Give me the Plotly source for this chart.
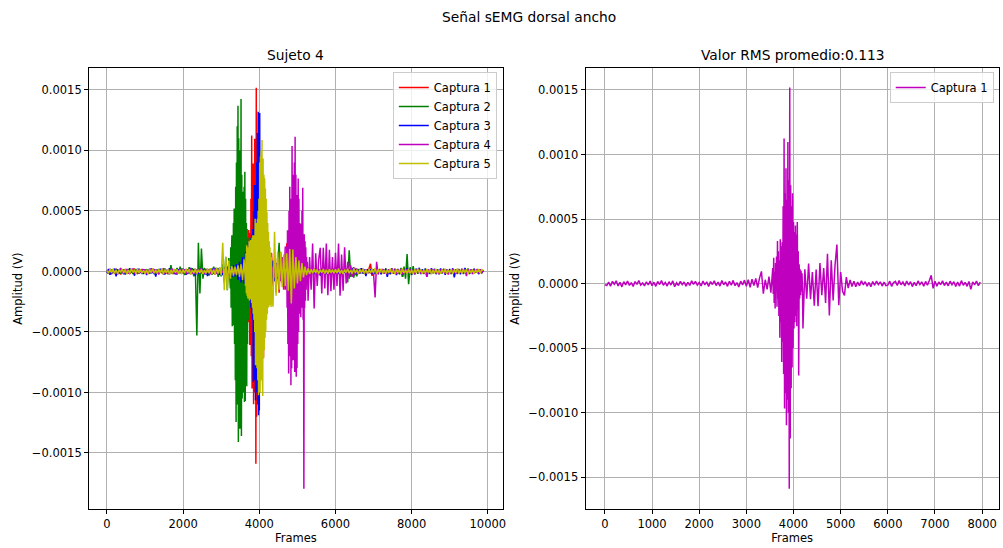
import numpy as np
import plotly.graph_objects as go

# sEMG captures of the latissimus dorsi, subject 4.
# Coarse samples every FRAME_STEP frames, amplitudes in microvolts;
# the activation bursts are stored separately at BURST_STEP resolution.
FRAME_STEP = 40
BURST_STEP = 10
UV_TO_V = 1e-6

captura_1 = [
    -8, -15, 12, -20, 18, -5, 22, -18, 10, -25, 15, -10, 20, -14, 8, -22, 16, -6, 24, -12, 5, -18, 14, -9, 19,
    -16, 11, -21, 17, -7, 23, -13, 9, -19, 15, -11, 21, -24, 6, -15, 18, -8, 13, -20, 10, -14, 22, -6, 17, -12,
    9, -18, 20, -10, 14, -23, 16, -7, 21, -15, 11, -19, 24, -9, 13, -21, 18, -12, 25, -16, 8, -26, 19, -11, 27,
    -20, 30, -28, 35, -15, 40, -30, 45, 95, -78, 30, -45, 55, -70, 120, 200, -193, 330, -608, 343, -967, 1124, -1098, 1519, -1589,
    762, -811, 477, -711, 111, -347, 111, -116, 155, -120, 90, -171, 110, -176, 160, -90, 120, -150, 232, -246, 180, -130, 140, 302, -168,
    90, -60, -91, 50, -35, 28, -22, 18, -25, 12, -17, 22, -10, 15, -20, 9, -24, 16, -13, 20, -8, 14, -19, 11, -15,
    -12, 19, -21, 8, 17, -14, 23, -9, 12, -18, 20, -11, 15, -23, 10, -16, 21, -7, 14, -20, 17, -12, 24, 64, -37,
    18, -20, 13, -9, 21, -15, 11, -17, 19, -8, 15, -22, 12, -19, 23, -13, 9, -21, 16, -45, 14, -10, 20, -16, 12,
]
burst_1_start = 3560
burst_1 = [
    120, -80, 200, -150, 90, -193, 160, -60, 210, -180,
    330, -120, 250, -250, 180, -420, 343, -300, 290, -608,
    320, -450, 600, -700, 1124, -967, 700, -850, 893, -1098,
    650, -900, 1097, -1000, 800, -1589, 1519, -1200, 762, -811,
    600, -650, 700, -500, 477, -347, 400, -300, 450, -250,
    380, -330, 477, -200, 250, -711, 150, -116, 111, -90,
    100, -60, 80, -50,
]

captura_2 = [
    12, -18, 9, -22, 16, -11, 20, -15, 7, -19, 14, -24, 18, -8, 21, -13, 10, -20, 15, -9, 23, -17, 11, -21, 13,
    -14, 19, -10, 22, -16, 8, -23, 17, -12, 20, -7, 15, -21, 24, -11, 18, -26, 52, -18, 14, -25, 30, -13, 40, -20,
    25, -30, 18, -22, 35, -15, 28, -40, 20, -529, 237, -182, 190, -60, 30, -25, 22, -35, 18, -28, 40, -20, 30, -45, 25,
    -40, 60, -90, 121, -155, 110, -140, 300, -452, 521, -1244, 1370, -1409, 1425, -1359, 658, -1070, 815, -949, 278, -300, 90, -70, 50, -45,
    30, -40, 25, -35, 45, -20, 38, -30, 20, -25, 35, -28, 50, 237, -60, 30, -22, 18, -30, 25, -18, 22, -26, 15, -20,
    18, -22, 14, -19, 23, -12, 16, -25, 11, -17, 20, -14, 9, -21, 15, -18, 24, -10, 13, -20, 17, -15, 22, -9, 19,
    -16, 21, -12, 18, -24, 14, -10, 22, -90, 176, -45, 30, -50, 25, -40, 20, -15, 24, -18, 12, -22, 17, -13, 20, -11,
    15, -19, 23, -14, 10, -21, 18, -12, 25, -17, 13, -22, 16, -9, 20, -15, 12, -24, 30, -45, 40, -60, 143, -105, 35,
    -30, 45, -25, 20, -18, 14, -21, 17, -11, 23, -15, 9, -20, 16, -13, 22, -8, 18, -24, 12, -16, 20, -10, 15, -19,
    14, -22, 19, -11, 17, -15, 21, -9, 13, -20, 16, -12, 24, -14, 10, -18, 20, -7, 15, -21, 11, -13, 8,
]
burst_2_start = 3240
burst_2 = [
    -140, 200, -300, 150, 300, -452, 250, -350, 400, -444,
    521, -600, 450, -900, 700, -1244, 900, -1100, 1200, -1000,
    1370, -1409, 1100, -1200, 900, -1300, 1000, -1100, 1425, -1359,
    800, -1050, 658, -900, 600, -1000, 700, -1078, 824, -1070,
    600, -800, 400, -949, 350, -600, 278, -400, 200, -300,
    120, -150,
]

captura_3 = [
    -12, 20, -28, 15, -9, 24, -40, 18, -14, 22, -10, 17, -25, 12, -19, 26, -8, 21, -35, 14, -16, 23, -11, 19, -22,
    16, -30, 11, -18, 25, -13, 20, -42, 14, -17, 22, -9, 18, -26, 13, -21, 27, -12, 17, -20, 10, -24, 19, -15, 23,
    -10, 18, -27, 14, -16, 28, -12, 21, -33, 15, -19, 25, -11, 20, -24, 13, -38, 17, -14, 22, -20, 30, -18, 26, -29,
    20, -30, 35, -25, 40, -35, 30, -45, 50, -40, 60, -70, 80, -90, 120, -100, 160, -130, 245, -200, 300, -913, 852, -1065, 1144,
    -1188, 1310, -700, 400, -250, 150, -140, 120, -100, 90, -80, 70, -60, 55, -75, 60, -110, 50, -40, 35, -30, 25, -35, 20, -28,
    15, -22, 18, -13, 24, -17, 11, -26, 20, -10, 16, -23, 13, -19, 22, -35, 17, -12, 25, -18, 9, -21, 14, -16, 20,
    -14, 23, -19, 12, -27, 16, -11, 21, -30, 18, -15, 24, -13, 19, -22, 10, -17, 26, -12, 15, -38, 20, -9, 17, -24,
    13, -20, 27, -16, 11, -23, 19, -14, 22, -45, 15, -18, 25, -11, 16, -29, 21, -13, 18, -24, 12, -17, 28, -10, 19,
    -25, 14, -18, 22, -12, 30, -20, 16, -15, 23, -42, 11, -19, 27, -14, 18, -22, 13, -17, 25, -11, 20, -28, 15, -16,
    21, -13, 26, -48, 17, -19, 12, -24, 20, -14, 29, -11, 16, -22, 18, -15, 23, -10, 14, -20, 17, -12, 10,
]
burst_3_start = 3760
burst_3 = [
    -200, 250, -300, 280, -350, 300, -400, 350, -913, 500,
    -676, 714, -900, 650, -1065, 714, -950, 900, -1000, 1144,
    -1100, 1320, -1188, 1000, -1150, 1310, -900, 700, -600, 500,
    -400, 300, -250, 200, -150, 120,
]

captura_4 = [
    10, -16, 22, -11, 18, -20, 13, -24, 9, 28, -15, 17, -12, 21, -19, 14, -8, 24, -17, 11, -22, 16, -13, 20, -10,
    17, -21, 12, -15, 23, -9, 19, -18, 14, -25, 10, -13, 26, -16, 11, -20, 18, -12, 22, -17, 15, -23, 13, -11, 21,
    -14, 19, -22, 16, -10, 24, -18, 12, -21, 15, -9, 27, -16, 13, -19, 20, -12, 17, -24, 11, -15, 22, -20, 14, -13,
    18, -11, 21, -17, 13, -23, 16, -10, 25, -19, 12, -15, 20, -22, 14, -12, 19, -18, 23, -9, 16, -21, 11, -14, 22,
    -16, 20, -25, 30, -20, 35, -40, 45, -30, 40, -50, 60, -45, 70, -80, 120, -150, 200, 341, -844, 700, -940, 1036, -733, 1113,
    -871, 769, -293, 395, 692, -1795, 308, -242, 120, -150, 231, -306, 150, -120, 100, 196, -182, 196, -140, 231, -196, 180, -163, 120, -150,
    155, -120, 230, -200, 140, -160, 200, -100, 80, -60, 50, -45, 35, -30, 25, -20, 18, -14, 22, -11, 16, -19, 13, -17, 21,
    -20, -215, 80, -25, 18, -12, 21, -16, 10, -22, 15, -9, 24, -18, 13, -20, 17, -11, 19, -23, 14, -15, 20, -10, 16,
    -19, 12, -24, 17, -13, 22, -16, 10, -21, 15, -45, 18, -14, 23, -11, 19, -17, 13, -22, 16, -12, 20, -18, 14, -25,
    11, -16, 21, -13, 18, -20, 15, -10, 23, -17, 12, -38, 19, -14, 16, -22, 13, -11, 20, -15, 17, -12, 9,
]
burst_4_start = 4720
burst_4 = [
    200, -300, 341, -600, 300, -844, 500, -700, 700, -600,
    600, -940, 500, -800, 1036, -700, 800, -733, 655, -600,
    900, -830, 1113, -700, 800, -871, 631, -800, 500, -600,
    769, -500, 600, -293, 400, -350, 395, -378, 300, -250,
    500, -300, 692, -400, 300, -1795, 308, -300, 250, -242,
    200, -150, 120, -100, 80, -60,
]

captura_5 = [
    8, -14, 19, -10, 23, -17, 12, -20, 15, -8, 21, -13, 17, -22, 11, -16, 24, -9, 14, -19, 18, -12, 20, -15, 10,
    -18, 13, -21, 16, -9, 22, -14, 11, -17, 19, -12, 25, -20, 15, -10, 18, -23, 13, -16, 21, -11, 17, -19, 14, -22,
    16, -13, 20, -9, 18, -24, 12, -15, 23, -18, 14, -11, 19, -21, 10, -17, 22, -14, 27, -20, 16, -25, 30, -18, 35,
    -30, 237, -155, 120, -150, 90, -60, 45, -35, 40, -30, 50, -45, 60, -70, 100, -120, 217, -223, 250, -240, 300, -400, 436, -775,
    700, -1023, 1086, -1029, 934, -720, 686, -550, 493, -291, 328, -200, 160, -150, 165, -130, 140, -120, 150, -160, 186, -265, 182, -140, 120,
    -100, 90, -80, 70, -50, 40, -30, 25, -20, 18, -15, 22, -12, 17, -19, 14, -10, 21, -16, 13, -18, 20, -11, 15, -14,
    19, -13, 23, -17, 11, -20, 16, -9, 22, -15, 12, -18, 24, -11, 14, -21, 17, -10, 20, -16, 13, -19, 18, -12, 21,
    -15, 30, -20, 17, -11, 23, -14, 12, -19, 16, -10, 22, -17, 13, -21, 18, -9, 15, -20, 24, -13, 11, -18, 19, -16,
    14, -21, 17, -12, 22, -10, 16, -19, 13, -15, 20, -11, 18, -23, 12, -14, 21, -17, 10, -18, 15, -12, 23, -16, 11,
    -13, 19, -20, 15, -11, 24, -17, 12, -16, 21, -10, 18, -22, 14, -12, 17, -19, 13, -9, 20, -14, 16, 10,
]
burst_5_start = 3640
burst_5 = [
    -120, 150, -180, 217, -200, 180, -223, 200, -150, 250,
    -240, 210, -200, 260, -230, 240, -260, 280, -300, 300,
    -350, 280, -400, 300, -500, 436, -775, 400, -700, 350,
    -800, 436, -900, 500, -1023, 600, -950, 900, -1000, 950,
    -900, 1000, -800, 1086, -900, -1029, 934, -720, 800, -650,
    770, -550, 686, -500, 600, -400, 493, -350, 400, -300,
    328, -291, 250, -280, 200, -250, 150, -293, 120, -200,
]

series_names = ["Captura 1", "Captura 2", "Captura 3", "Captura 4", "Captura 5"]
series_colors = ["#ff0000", "#008000", "#0000ff", "#bf00bf", "#bfbf00"]
coarse_series = [captura_1, captura_2, captura_3, captura_4, captura_5]
burst_series = [(burst_1_start, burst_1), (burst_2_start, burst_2), (burst_3_start, burst_3),
                (burst_4_start, burst_4), (burst_5_start, burst_5)]

y_ticks = [-0.0015, -0.0010, -0.0005, 0.0, 0.0005, 0.0010, 0.0015]
y_tick_text = ["\u22120.0015", "\u22120.0010", "\u22120.0005", "0.0000", "0.0005", "0.0010", "0.0015"]
left_x_ticks = [0, 2000, 4000, 6000, 8000, 10000]
right_x_ticks = [0, 1000, 2000, 3000, 4000, 5000, 6000, 7000, 8000]

FONT = "DejaVu Sans"
W, H = 1003, 548


def build_signal(coarse, burst_start, burst):
    """Coarse samples outside the burst window, fine samples inside it."""
    xc = np.arange(len(coarse)) * FRAME_STEP
    yc = np.asarray(coarse, dtype=float)
    xb = burst_start + np.arange(len(burst)) * BURST_STEP
    yb = np.asarray(burst, dtype=float)
    keep = (xc < xb[0]) | (xc > xb[-1])
    x = np.concatenate([xc[keep], xb])
    y = np.concatenate([yc[keep], yb])
    order = np.argsort(x, kind="stable")
    return x[order], y[order] * UV_TO_V


fig = go.Figure()

for name, color, coarse, (b_start, b_vals) in zip(series_names, series_colors, coarse_series, burst_series):
    x, y = build_signal(coarse, b_start, b_vals)
    fig.add_trace(go.Scatter(
        x=x, y=y, mode="lines", name=name,
        line=dict(color=color, width=1.5, simplify=False), xaxis="x", yaxis="y", legend="legend",
    ))

x1, y1 = build_signal(captura_1, burst_1_start, burst_1)
fig.add_trace(go.Scatter(
    x=x1, y=y1, mode="lines", name="Captura 1",
    line=dict(color="#bf00bf", width=1.5, simplify=False), xaxis="x2", yaxis="y2", legend="legend2",
))

axis_common = dict(
    showline=True, mirror=True, linecolor="black", linewidth=1,
    ticks="outside", ticklen=4, tickcolor="black", tickwidth=1,
    showgrid=True, gridcolor="#b0b0b0", gridwidth=0.8, zeroline=False,
    tickfont=dict(family=FONT, size=11.5, color="black"),
    title_font=dict(family=FONT, size=11.5, color="black"),
)

top_px, bottom_px = 68.3, 509.0
y_dom = [1 - bottom_px / H, 1 - top_px / H]
legend_style = dict(xanchor="right", yanchor="top",
                    bgcolor="rgba(255,255,255,0.8)", bordercolor="#cccccc", borderwidth=1,
                    font=dict(family=FONT, size=11.5, color="black"))

fig.update_layout(
    width=W, height=H, margin=dict(l=0, r=0, t=0, b=0),
    paper_bgcolor="white", plot_bgcolor="white",
    font=dict(family=FONT, color="black"),
    xaxis=dict(domain=[89.3 / W, 504.3 / W], range=[-471, 10393], anchor="y",
               tickvals=left_x_ticks, ticktext=[str(v) for v in left_x_ticks],
               title=dict(text="Frames", standoff=4), **axis_common),
    yaxis=dict(domain=y_dom, range=[-0.001963, 0.001679], anchor="x",
               tickvals=y_ticks, ticktext=y_tick_text,
               title=dict(text="Amplitud (V)", standoff=6), **axis_common),
    xaxis2=dict(domain=[587.3 / W, 1001.7 / W], range=[-410, 8351], anchor="y2",
                tickvals=right_x_ticks, ticktext=[str(v) for v in right_x_ticks],
                title=dict(text="Frames", standoff=4), **axis_common),
    yaxis2=dict(domain=y_dom, range=[-0.001746, 0.001668], anchor="x2",
                tickvals=y_ticks, ticktext=y_tick_text,
                title=dict(text="Amplitud (V)", standoff=6), **axis_common),
    legend=dict(x=498.3 / W, y=1 - 72 / H, **legend_style),
    legend2=dict(x=996.7 / W, y=1 - 72 / H, **legend_style),
    showlegend=True,
    annotations=[
        dict(text="Señal sEMG dorsal ancho", x=531 / W, y=1 - 17 / H, xref="paper", yref="paper",
             xanchor="center", yanchor="middle", showarrow=False,
             font=dict(family=FONT, size=13.8, color="black")),
        dict(text="Sujeto 4", x=296.8 / W, y=1 - 55 / H, xref="paper", yref="paper",
             xanchor="center", yanchor="middle", showarrow=False,
             font=dict(family=FONT, size=13.8, color="black")),
        dict(text="Valor RMS promedio:0.113", x=794.5 / W, y=1 - 55 / H, xref="paper", yref="paper",
             xanchor="center", yanchor="middle", showarrow=False,
             font=dict(family=FONT, size=13.8, color="black")),
    ],
)

fig.write_html("out.html")
